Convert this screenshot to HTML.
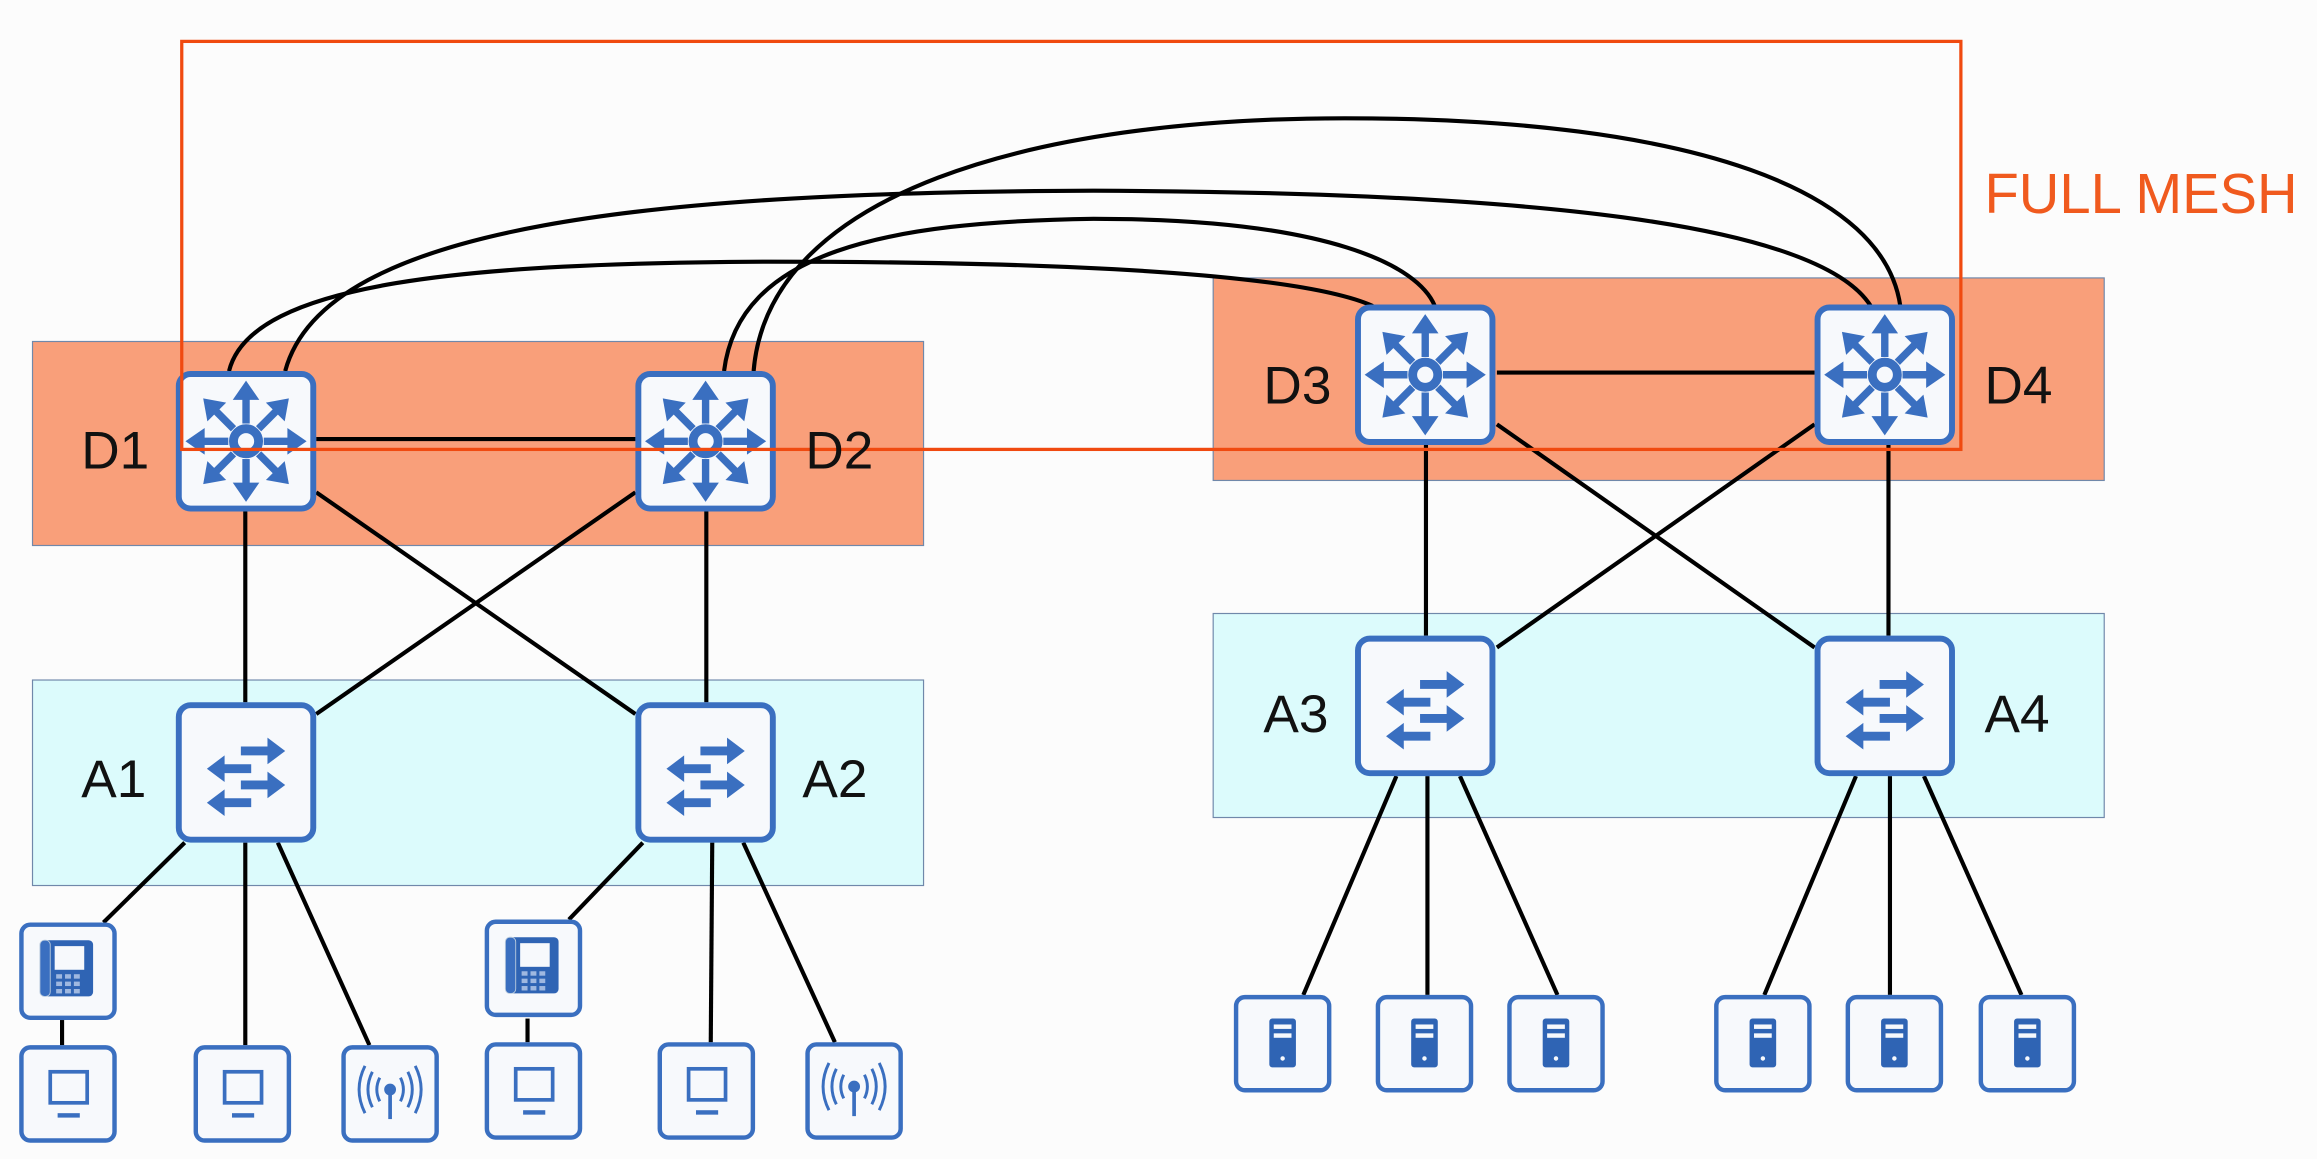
<!DOCTYPE html>
<html><head><meta charset="utf-8"><style>
html,body{margin:0;padding:0;background:#fcfcfc;}
svg{display:block;}
text{font-family:"Liberation Sans",sans-serif;}
</style></head><body>
<svg width="2317" height="1159" viewBox="0 0 1568 784" preserveAspectRatio="none" xmlns="http://www.w3.org/2000/svg">
<defs>
<g id="box"><rect x="2" y="2" width="91" height="91" rx="8" fill="#f7f9fc" stroke="#3a6fc0" stroke-width="4"/></g>
<g id="arr"><line x1="0" y1="-12" x2="0" y2="-30" stroke="#3a6fc0" stroke-width="5"/><polygon points="0,-41 -9,-28 9,-28" fill="#3a6fc0"/></g>
<g id="router"><use href="#box"/>
<g transform="translate(47.5,47.5)">
<circle r="8.5" fill="#f7f9fc" stroke="#3a6fc0" stroke-width="6"/>
<use href="#arr"/><use href="#arr" transform="rotate(45)"/><use href="#arr" transform="rotate(90)"/><use href="#arr" transform="rotate(135)"/><use href="#arr" transform="rotate(180)"/><use href="#arr" transform="rotate(225)"/><use href="#arr" transform="rotate(270)"/><use href="#arr" transform="rotate(315)"/>
</g></g>
<g id="harr"><line x1="0" y1="0" x2="22" y2="0" stroke="#3a6fc0" stroke-width="6"/><polygon points="30,0 18,-9 18,9" fill="#3a6fc0"/></g>
<g id="switch"><use href="#box"/>
<use href="#harr" transform="translate(44,33)"/>
<use href="#harr" transform="translate(51,45) scale(-1,1)"/>
<use href="#harr" transform="translate(44,56)"/>
<use href="#harr" transform="translate(51,68) scale(-1,1)"/>
</g>
<g id="dbox"><rect x="1.5" y="1.5" width="63" height="63" rx="6" fill="#f7f9fc" stroke="#3a6fc0" stroke-width="3"/></g>
<g id="pc"><use href="#dbox"/><rect x="21" y="18" width="25" height="21" fill="none" stroke="#3a6fc0" stroke-width="2.5"/><rect x="26" y="46" width="15" height="3" fill="#3a6fc0"/></g>
<g id="ap"><use href="#dbox"/><circle cx="33" cy="30" r="4" fill="#3a6fc0"/><line x1="33" y1="30" x2="33" y2="50" stroke="#3a6fc0" stroke-width="2.5"/>
<path d="M26 22 Q22 30 26 38 M40 22 Q44 30 40 38 M21 18 Q15 30 21 42 M45 18 Q51 30 45 42 M16 14 Q8 30 16 46 M50 14 Q58 30 50 46" fill="none" stroke="#3a6fc0" stroke-width="2"/></g>
<g id="phone"><use href="#dbox"/><rect x="14" y="12" width="36" height="38" rx="3" fill="#2f64b4"/><rect x="24" y="16" width="20" height="16" fill="#f7f9fc"/><rect x="14" y="12" width="7" height="38" rx="3" fill="#3a6fc0" stroke="#bcd" stroke-width="0.6"/>
<g fill="#9fb8e0"><rect x="25" y="35" width="4" height="3"/><rect x="31" y="35" width="4" height="3"/><rect x="37" y="35" width="4" height="3"/><rect x="25" y="40" width="4" height="3"/><rect x="31" y="40" width="4" height="3"/><rect x="37" y="40" width="4" height="3"/><rect x="25" y="45" width="4" height="3"/><rect x="31" y="45" width="4" height="3"/><rect x="37" y="45" width="4" height="3"/></g></g>
<g id="server"><use href="#dbox"/><rect x="24" y="16" width="18" height="33" rx="2" fill="#2f64b4"/><rect x="27" y="20" width="12" height="3" fill="#f7f9fc"/><rect x="27" y="26" width="12" height="3" fill="#f7f9fc"/><circle cx="33" cy="43" r="1.5" fill="#f7f9fc"/></g>
</defs>
<rect width="1568" height="784" fill="#fcfcfc"/>
<rect x="22" y="231" width="603" height="138" fill="#f99f7a" stroke="#7088aa" stroke-width="0.8"/>
<rect x="22" y="460" width="603" height="139" fill="#dcfbfc" stroke="#7088aa" stroke-width="0.8"/>
<rect x="821" y="188" width="603" height="137" fill="#f99f7a" stroke="#7088aa" stroke-width="0.8"/>
<rect x="821" y="415" width="603" height="138" fill="#dcfbfc" stroke="#7088aa" stroke-width="0.8"/>
<g stroke="#000" stroke-width="2.8" fill="none">
<line x1="214" y1="297" x2="430" y2="297"/>
<line x1="1013" y1="252" x2="1228" y2="252"/>
<line x1="166" y1="346" x2="166" y2="475"/>
<line x1="478" y1="346" x2="478" y2="475"/>
<line x1="214" y1="333" x2="430" y2="483"/>
<line x1="430" y1="333" x2="214" y2="483"/>
<line x1="965" y1="300" x2="965" y2="430"/>
<line x1="1278" y1="300" x2="1278" y2="430"/>
<line x1="1013" y1="287" x2="1228" y2="438"/>
<line x1="1228" y1="287" x2="1013" y2="438"/>
<path d="M155 251 C170 190 320 178 520 177 C720 177 880 185 929 207"/>
<path d="M193 251 C220 150 450 130 740 129 C1030 130 1230 150 1266 207"/>
<path d="M490 251 C500 170 600 150 740 148 C900 148 960 180 971 207"/>
<path d="M510 251 C520 130 700 80 910 80 C1150 80 1275 130 1286 207"/>
<line x1="125" y1="570" x2="70" y2="624"/>
<line x1="166" y1="570" x2="166" y2="707"/>
<line x1="188" y1="570" x2="250" y2="707"/>
<line x1="42" y1="690" x2="42" y2="707"/>
<line x1="435" y1="570" x2="385" y2="622"/>
<line x1="482" y1="570" x2="481" y2="705"/>
<line x1="503" y1="570" x2="565" y2="705"/>
<line x1="357" y1="689" x2="357" y2="705"/>
<line x1="945" y1="525" x2="882" y2="673"/>
<line x1="966" y1="525" x2="966" y2="673"/>
<line x1="988" y1="525" x2="1054" y2="673"/>
<line x1="1256" y1="525" x2="1194" y2="673"/>
<line x1="1279" y1="525" x2="1279" y2="673"/>
<line x1="1302" y1="525" x2="1368" y2="673"/>
</g>
<use href="#router" x="119" y="251"/>
<use href="#router" x="430" y="251"/>
<use href="#router" x="917" y="206"/>
<use href="#router" x="1228" y="206"/>
<use href="#switch" x="119" y="475"/>
<use href="#switch" x="430" y="475"/>
<use href="#switch" x="917" y="430"/>
<use href="#switch" x="1228" y="430"/>
<use href="#phone" x="13" y="624"/>
<use href="#pc" x="13" y="707"/>
<use href="#pc" x="131" y="707"/>
<use href="#ap" x="231" y="707"/>
<use href="#phone" x="328" y="622"/>
<use href="#pc" x="328" y="705"/>
<use href="#pc" x="445" y="705"/>
<use href="#ap" x="545" y="705"/>
<use href="#server" x="835" y="673"/>
<use href="#server" x="931" y="673"/>
<use href="#server" x="1020" y="673"/>
<use href="#server" x="1160" y="673"/>
<use href="#server" x="1249" y="673"/>
<use href="#server" x="1339" y="673"/>
<rect x="123" y="28" width="1204" height="276" fill="none" stroke="#f04a10" stroke-width="2.2"/>
<text x="1343" y="144" font-size="38" fill="#f05a1e">FULL MESH</text>
<g font-size="36" fill="#111">
<text x="55" y="317">D1</text>
<text x="545" y="317">D2</text>
<text x="55" y="539">A1</text>
<text x="543" y="539">A2</text>
<text x="855" y="273">D3</text>
<text x="1343" y="273">D4</text>
<text x="855" y="495">A3</text>
<text x="1343" y="495">A4</text>
</g>
</svg>
</body></html>
